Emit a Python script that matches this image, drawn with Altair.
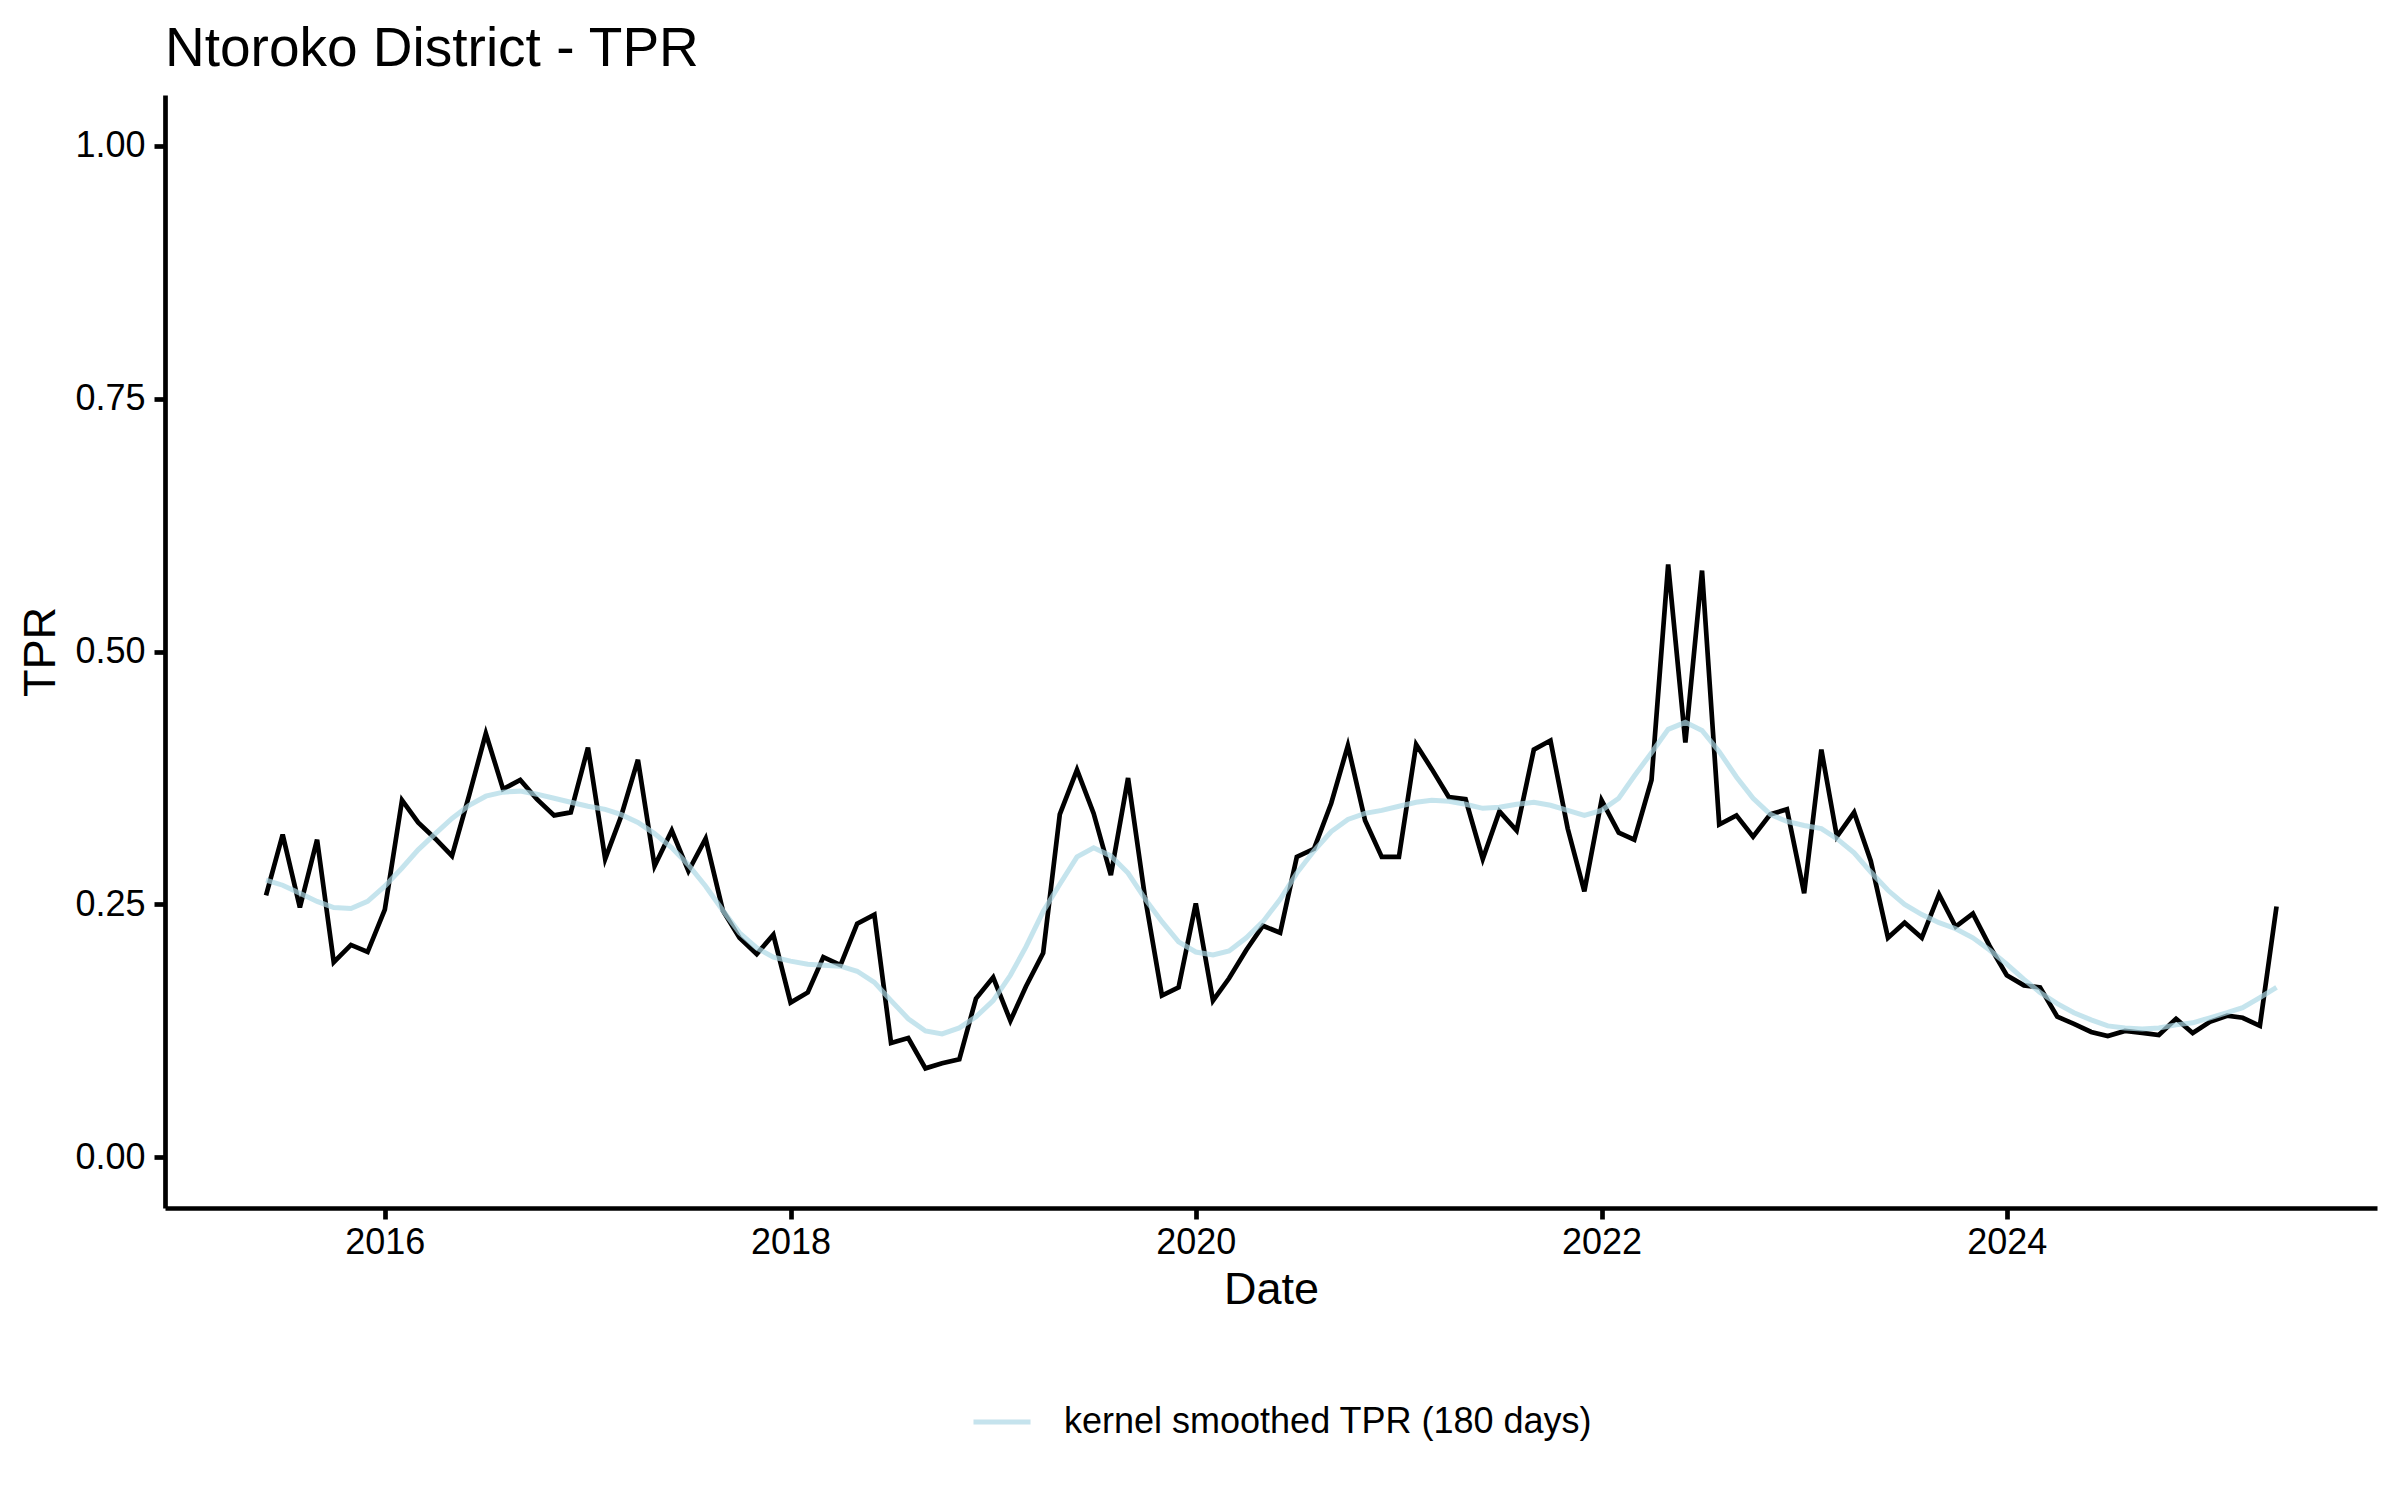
import altair as alt
import pandas as pd

# Monthly observations, June 2015 .. May 2025
start_month = "2015-06-01"
n_months = 120
months = pd.date_range(start_month, periods=n_months, freq="MS").strftime("%Y-%m-%d").tolist()

tpr = [
    # 2015 (Jun-Dec)
    0.259, 0.319, 0.247, 0.314, 0.193, 0.210, 0.203,
    # 2016
    0.245, 0.353, 0.331, 0.315, 0.298, 0.358, 0.419, 0.364, 0.373, 0.354, 0.338, 0.341,
    # 2017
    0.405, 0.295, 0.336, 0.393, 0.288, 0.323, 0.283, 0.315, 0.244, 0.217, 0.201, 0.220,
    # 2018
    0.153, 0.163, 0.198, 0.190, 0.231, 0.240, 0.113, 0.118, 0.088, 0.093, 0.097, 0.157,
    # 2019
    0.178, 0.135, 0.169, 0.202, 0.339, 0.383, 0.340, 0.279, 0.375, 0.259, 0.160, 0.168,
    # 2020
    0.251, 0.155, 0.177, 0.205, 0.229, 0.222, 0.297, 0.305, 0.350, 0.407, 0.333, 0.297,
    # 2021
    0.297, 0.408, 0.384, 0.356, 0.354, 0.295, 0.342, 0.323, 0.403, 0.412, 0.325, 0.263,
    # 2022
    0.353, 0.321, 0.314, 0.373, 0.586, 0.410, 0.580, 0.329, 0.338, 0.317, 0.339, 0.344,
    # 2023
    0.261, 0.403, 0.317, 0.341, 0.293, 0.217, 0.232, 0.217, 0.260, 0.228, 0.241, 0.209,
    # 2024
    0.180, 0.170, 0.168, 0.139, 0.132, 0.124, 0.120, 0.125, 0.123, 0.121, 0.137, 0.123,
    # 2025 (Jan-May)
    0.134, 0.140, 0.138, 0.130, 0.248,
]

smoothed = [
    # 2015 (Jun-Dec)
    0.274, 0.269, 0.261, 0.253, 0.247, 0.246, 0.253,
    # 2016
    0.268, 0.286, 0.304, 0.320, 0.335, 0.348, 0.357, 0.361, 0.362, 0.359, 0.355, 0.351,
    # 2017
    0.347, 0.344, 0.339, 0.331, 0.320, 0.306, 0.289, 0.268, 0.244, 0.222, 0.207, 0.198,
    # 2018
    0.194, 0.191, 0.190, 0.189, 0.184, 0.173, 0.155, 0.137, 0.125, 0.122, 0.128, 0.139,
    # 2019
    0.155, 0.180, 0.208, 0.243, 0.270, 0.297, 0.306, 0.298, 0.281, 0.256, 0.233, 0.213,
    # 2020
    0.203, 0.200, 0.204, 0.217, 0.233, 0.255, 0.281, 0.303, 0.322, 0.334, 0.340, 0.343,
    # 2021
    0.347, 0.351, 0.353, 0.352, 0.349, 0.345, 0.346, 0.349, 0.351, 0.348, 0.343, 0.338,
    # 2022
    0.343, 0.355, 0.377, 0.400, 0.423, 0.430, 0.422, 0.401, 0.376, 0.355, 0.339, 0.332,
    # 2023
    0.328, 0.325, 0.315, 0.301, 0.282, 0.264, 0.250, 0.240, 0.232, 0.226, 0.217, 0.205,
    # 2024
    0.191, 0.176, 0.163, 0.152, 0.143, 0.136, 0.130, 0.128, 0.127, 0.128, 0.131, 0.133,
    # 2025 (Jan-May)
    0.138, 0.143, 0.148, 0.158, 0.168,
]

smooth_label = "kernel smoothed TPR (180 days)"
x_tick_years = [2016, 2018, 2020, 2022, 2024]
y_ticks = [0.0, 0.25, 0.5, 0.75, 1.0]

df = pd.DataFrame({
    "date": months,
    "TPR": tpr,
    "smooth": smoothed,
    "series": [smooth_label] * n_months,
})

FONT = "Liberation Sans"

x_enc = alt.X(
    "date:T",
    title="Date",
    scale=alt.Scale(
        type="utc",
        domain=[alt.DateTime(year=2014, month=12, date=1, utc=True),
                alt.DateTime(year=2025, month=10, date=29, utc=True)],
    ),
    axis=alt.Axis(
        values=[alt.DateTime(year=y, month=1, date=1, utc=True) for y in x_tick_years],
        format="%Y",
        labelPadding=6,
        titleX=1106,
        titleY=95,
        titleAlign="center",
        titleBaseline="alphabetic",
    ),
)

y_scale = alt.Scale(domain=[-0.05, 1.05], nice=False, zero=False)
y_axis = alt.Axis(
    values=y_ticks,
    format=".2f",
    labelPadding=9,
    titleAngle=270,
    titleX=-111,
    titleY=556.5,
    titleAlign="center",
    titleBaseline="alphabetic",
)

raw = alt.Chart(df).mark_line(color="black", strokeWidth=4.7).encode(
    x=x_enc,
    y=alt.Y("TPR:Q", title="TPR", scale=y_scale, axis=y_axis),
)

smooth = alt.Chart(df).mark_line(strokeWidth=5, opacity=0.7).encode(
    x=x_enc,
    y=alt.Y("smooth:Q", title="TPR", scale=y_scale, axis=y_axis),
    color=alt.Color(
        "series:N",
        scale=alt.Scale(domain=[smooth_label], range=["#ADD8E6"]),
        legend=alt.Legend(
            title=None,
            orient="none",
            legendX=806,
            legendY=1296,
            direction="horizontal",
            symbolType="stroke",
            symbolSize=3249,
            symbolStrokeWidth=5,
            symbolOpacity=0.7,
            labelFontSize=36,
            labelFont=FONT,
            labelColor="black",
            labelOffset=31,
            labelLimit=0,
            padding=0,
        ),
    ),
)

chart = alt.layer(raw, smooth).properties(
    width=2212,
    height=1113,
    background="white",
    title=alt.TitleParams(
        text="Ntoroko District - TPR",
        anchor="start",
        frame="group",
        fontSize=55,
        font=FONT,
        fontWeight="normal",
        color="black",
        baseline="alphabetic",
        offset=-26,
    ),
    autosize=alt.AutoSizeParams(type="none"),
    padding={"left": 157, "top": 87, "right": 15, "bottom": 284},
).configure_view(
    stroke=None
).configure_axis(
    grid=False,
    domainColor="black",
    domainWidth=4.7,
    tickColor="black",
    tickWidth=4.7,
    tickSize=11,
    labelFont=FONT,
    labelFontSize=36,
    labelColor="black",
    titleFont=FONT,
    titleFontSize=45,
    titleFontWeight="normal",
    titleColor="black",
)

chart.save("out.html", embed_options={"renderer": "svg", "actions": False})
